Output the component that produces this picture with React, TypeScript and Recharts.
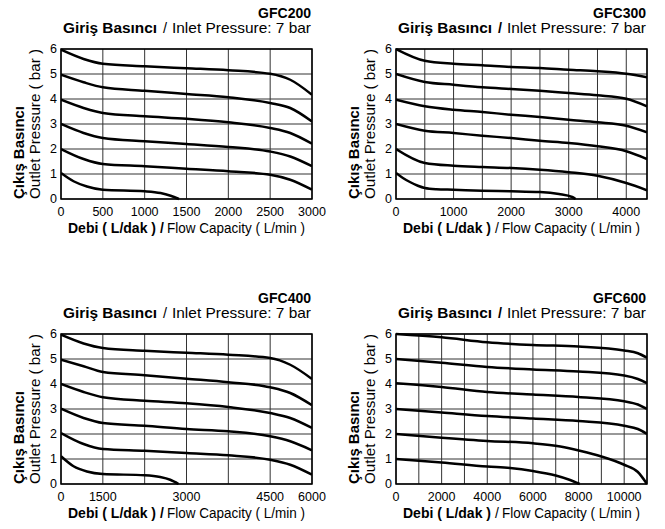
import React from 'react';
import { LineChart, Line, XAxis, YAxis, CartesianGrid, ReferenceArea } from 'recharts';

// ---- shared ----
const pressureTicks = [0, 1, 2, 3, 4, 5, 6];

// ---- GFC200 ----
const gfc200Ticks = [0, 500, 1000, 1500, 2000, 2500, 3000];
const gfc200Labels = ['0', '500', '1000', '1500', '2000', '2500', '3000'];
const gfc200Flow = [0, 270, 500, 1000, 1500, 2000, 2500, 2740, 3000];
const gfc200P6 = [5.97, 5.6, 5.41, 5.31, 5.23, 5.15, 5.01, 4.77, 4.17];
const gfc200P5 = [4.97, 4.67, 4.47, 4.33, 4.2, 4.07, 3.84, 3.64, 3.1];
const gfc200P4 = [3.97, 3.64, 3.44, 3.31, 3.21, 3.07, 2.84, 2.64, 2.21];
const gfc200P3 = [3.0, 2.64, 2.44, 2.31, 2.2, 2.08, 1.9, 1.7, 1.31];
const gfc200P2 = [2.0, 1.6, 1.4, 1.31, 1.21, 1.11, 0.97, 0.77, 0.37];
const gfc200Flow1 = [0, 150, 310, 500, 1000, 1190, 1310, 1410];
const gfc200P1 = [1.04, 0.71, 0.5, 0.37, 0.31, 0.24, 0.13, 0];

// ---- GFC300 ----
const gfc300Ticks = [0, 500, 1000, 1500, 2000, 2500, 3000, 3500, 4000];
const gfc300Labels = ['0', '', '1000', '', '2000', '', '3000', '', '4000'];
const gfc300Max = 4360;
const gfc300Flow = [0, 500, 1000, 1500, 2000, 2500, 3000, 3500, 4000, 4360];
const gfc300P6 = [6.0, 5.53, 5.41, 5.35, 5.28, 5.24, 5.17, 5.11, 5.01, 4.87];
const gfc300P5 = [5.0, 4.68, 4.57, 4.47, 4.4, 4.33, 4.24, 4.15, 4.01, 3.71];
const gfc300P4 = [3.97, 3.71, 3.57, 3.48, 3.37, 3.28, 3.17, 3.07, 2.93, 2.67];
const gfc300P3 = [3.0, 2.73, 2.64, 2.53, 2.44, 2.33, 2.24, 2.11, 1.91, 1.6];
const gfc300P2 = [2.0, 1.44, 1.33, 1.28, 1.24, 1.17, 1.07, 0.93, 0.64, 0.35];
const gfc300Flow1 = [0, 120, 250, 380, 500, 700, 1000, 1500, 2000, 2500, 2830, 3060, 3120];
const gfc300P1 = [1.04, 0.84, 0.67, 0.53, 0.44, 0.39, 0.37, 0.33, 0.31, 0.28, 0.2, 0.08, 0];

// ---- GFC400 (x in grid divisions, labelled unevenly as in the original) ----
const gfc400Ticks = [0, 1, 2, 3, 4, 5, 6];
const gfc400Labels = ['0', '1500', '', '3000', '', '4500', '6000'];
const gfc400Pos = [0, 0.54, 1, 2, 3, 4, 5, 5.48, 6];
const gfc400P6 = [5.97, 5.62, 5.44, 5.33, 5.25, 5.17, 5.04, 4.77, 4.2];
const gfc400P5 = [4.97, 4.71, 4.48, 4.35, 4.21, 4.07, 3.87, 3.64, 3.15];
const gfc400P4 = [4.0, 3.68, 3.47, 3.33, 3.23, 3.08, 2.84, 2.64, 2.24];
const gfc400P3 = [3.01, 2.64, 2.44, 2.33, 2.2, 2.11, 1.91, 1.71, 1.35];
const gfc400P2 = [2.04, 1.6, 1.4, 1.33, 1.24, 1.15, 0.97, 0.77, 0.37];
const gfc400Pos1 = [0, 0.3, 0.62, 1, 2, 2.37, 2.61, 2.81];
const gfc400P1 = [1.11, 0.71, 0.5, 0.4, 0.35, 0.28, 0.17, 0];

// ---- GFC600 ----
const gfc600Ticks = [0, 1000, 2000, 3000, 4000, 5000, 6000, 7000, 8000, 9000, 10000];
const gfc600Labels = ['0', '', '2000', '', '4000', '', '6000', '', '8000', '', '10000'];
const gfc600Max = 11000;
const gfc600Flow = [0, 2000, 4000, 6000, 8000, 10000, 10600, 11000];
const gfc600P6 = [6.0, 5.87, 5.67, 5.56, 5.5, 5.34, 5.23, 5.05];
const gfc600P5 = [5.0, 4.85, 4.68, 4.58, 4.5, 4.34, 4.2, 4.03];
const gfc600P4 = [4.03, 3.88, 3.68, 3.58, 3.48, 3.31, 3.18, 3.0];
const gfc600P3 = [3.0, 2.86, 2.72, 2.62, 2.52, 2.33, 2.2, 2.0];
const gfc600Flow2 = [0, 2000, 4000, 6000, 7200, 8100, 9000, 10000, 10600, 11000];
const gfc600P2 = [2.0, 1.85, 1.72, 1.63, 1.5, 1.32, 1.1, 0.77, 0.48, 0];
const gfc600Flow1 = [0, 2000, 4000, 5000, 6000, 7000, 7600, 8050];
const gfc600P1 = [1.0, 0.86, 0.7, 0.64, 0.52, 0.34, 0.17, 0];

type Pts = { flow: number; pressure: number }[];
const zip = (f: number[], p: number[]): Pts => f.map((v, i) => ({ flow: v, pressure: p[i] }));

const FONT = '"Liberation Sans", Arial, Helvetica, sans-serif';

type Props = {
  left: number;
  top: number;
  title: string;
  xMax: number;
  xTicks: number[];
  xLabels: string[];
  series: Pts[];
  subSlashBold: boolean;
  axisSlashBold: boolean;
};

const W = 330;
const H = 240;
const M = { top: 49, right: 18, bottom: 16, left: 31 };
const YW = 30;
const XH = 25;

function PressureChart(p: Props) {
  const plotBottom = H - M.bottom - XH;
  return (
    <div style={{ position: 'absolute', left: p.left, top: p.top, width: W, height: H, fontFamily: FONT }}>
      <LineChart width={W} height={H} margin={M}>
        <CartesianGrid stroke="#333" strokeWidth={1} />
        <XAxis
          type="number"
          dataKey="flow"
          domain={[0, p.xMax]}
          ticks={p.xTicks}
          tickFormatter={(v: number, i: number) => p.xLabels[i]}
          interval={0}
          allowDataOverflow
          axisLine={false}
          tickLine={false}
          tickSize={0}
          tickMargin={8}
          height={XH}
          tick={{ fill: '#000', fontSize: 12.5 }}
        />
        <YAxis
          type="number"
          domain={[0, 6]}
          ticks={pressureTicks}
          interval={0}
          axisLine={false}
          tickLine={false}
          tickSize={0}
          tickMargin={4}
          width={YW}
          tick={{ fill: '#000', fontSize: 12.5 }}
        />
        <ReferenceArea x1={0} x2={p.xMax} y1={0} y2={6} fill="none" stroke="#000" strokeWidth={1.5} ifOverflow="visible" />
        {p.series.map((s, i) => (
          <Line
            key={i}
            data={s}
            dataKey="pressure"
            type="monotone"
            stroke="#000"
            strokeWidth={2.5}
            dot={false}
            activeDot={false}
            isAnimationActive={false}
          />
        ))}
      </LineChart>
      <svg width={W} height={H} style={{ position: 'absolute', left: 0, top: 0, pointerEvents: 'none' }}>
        <text x={311} y={18} textAnchor="end" fontSize={14} fontWeight="bold" fill="#000">
          {p.title}
        </text>
        {/* subtitle */}
        <text x={63} y={33} fontSize={14.5} fontWeight="bold" fill="#000" textLength={94} lengthAdjust="spacingAndGlyphs">
          Giriş Basıncı
        </text>
        <text x={165} y={33} textAnchor="middle" fontSize={14.5} fontWeight={p.subSlashBold ? 'bold' : 'normal'} fill="#000">
          /
        </text>
        <text x={311} y={33} textAnchor="end" fontSize={14.5} fill="#000" textLength={139} lengthAdjust="spacingAndGlyphs">
          Inlet Pressure: 7 bar
        </text>
        {/* x-axis title */}
        <text x={68} y={233} fontSize={14} fontWeight="bold" fill="#000" textLength={88} lengthAdjust="spacingAndGlyphs">
          Debi ( L/dak )
        </text>
        <text x={162} y={233} textAnchor="middle" fontSize={14} fontWeight={p.axisSlashBold ? 'bold' : 'normal'} fill="#000">
          /
        </text>
        <text x={305} y={233} textAnchor="end" fontSize={14} fill="#000" textLength={138} lengthAdjust="spacingAndGlyphs">
          Flow Capacity ( L/min )
        </text>
        {/* y-axis title */}
        <text transform="rotate(-90)" x={-plotBottom} y={24} textAnchor="start" fontSize={14.5} fontWeight="bold" fill="#000" textLength={93} lengthAdjust="spacingAndGlyphs">
          Çıkış Basıncı
        </text>
        <text transform="rotate(-90)" x={-plotBottom} y={39.5} textAnchor="start" fontSize={15} fill="#000" textLength={150} lengthAdjust="spacingAndGlyphs">
          Outlet Pressure ( bar )
        </text>
      </svg>
    </div>
  );
}

export default function App() {
  return (
    <div style={{ position: 'absolute', left: 0, top: 0, width: 665, height: 529, background: '#fff' }}>
      <PressureChart
        left={0}
        top={0}
        title="GFC200"
        xMax={3000}
        xTicks={gfc200Ticks}
        xLabels={gfc200Labels}
        subSlashBold={false}
        axisSlashBold={true}
        series={[
          zip(gfc200Flow, gfc200P6),
          zip(gfc200Flow, gfc200P5),
          zip(gfc200Flow, gfc200P4),
          zip(gfc200Flow, gfc200P3),
          zip(gfc200Flow, gfc200P2),
          zip(gfc200Flow1, gfc200P1),
        ]}
      />
      <PressureChart
        left={335}
        top={0}
        title="GFC300"
        xMax={gfc300Max}
        xTicks={gfc300Ticks}
        xLabels={gfc300Labels}
        subSlashBold={true}
        axisSlashBold={false}
        series={[
          zip(gfc300Flow, gfc300P6),
          zip(gfc300Flow, gfc300P5),
          zip(gfc300Flow, gfc300P4),
          zip(gfc300Flow, gfc300P3),
          zip(gfc300Flow, gfc300P2),
          zip(gfc300Flow1, gfc300P1),
        ]}
      />
      <PressureChart
        left={0}
        top={285}
        title="GFC400"
        xMax={6}
        xTicks={gfc400Ticks}
        xLabels={gfc400Labels}
        subSlashBold={false}
        axisSlashBold={true}
        series={[
          zip(gfc400Pos, gfc400P6),
          zip(gfc400Pos, gfc400P5),
          zip(gfc400Pos, gfc400P4),
          zip(gfc400Pos, gfc400P3),
          zip(gfc400Pos, gfc400P2),
          zip(gfc400Pos1, gfc400P1),
        ]}
      />
      <PressureChart
        left={335}
        top={285}
        title="GFC600"
        xMax={gfc600Max}
        xTicks={gfc600Ticks}
        xLabels={gfc600Labels}
        subSlashBold={true}
        axisSlashBold={false}
        series={[
          zip(gfc600Flow, gfc600P6),
          zip(gfc600Flow, gfc600P5),
          zip(gfc600Flow, gfc600P4),
          zip(gfc600Flow, gfc600P3),
          zip(gfc600Flow2, gfc600P2),
          zip(gfc600Flow1, gfc600P1),
        ]}
      />
    </div>
  );
}
